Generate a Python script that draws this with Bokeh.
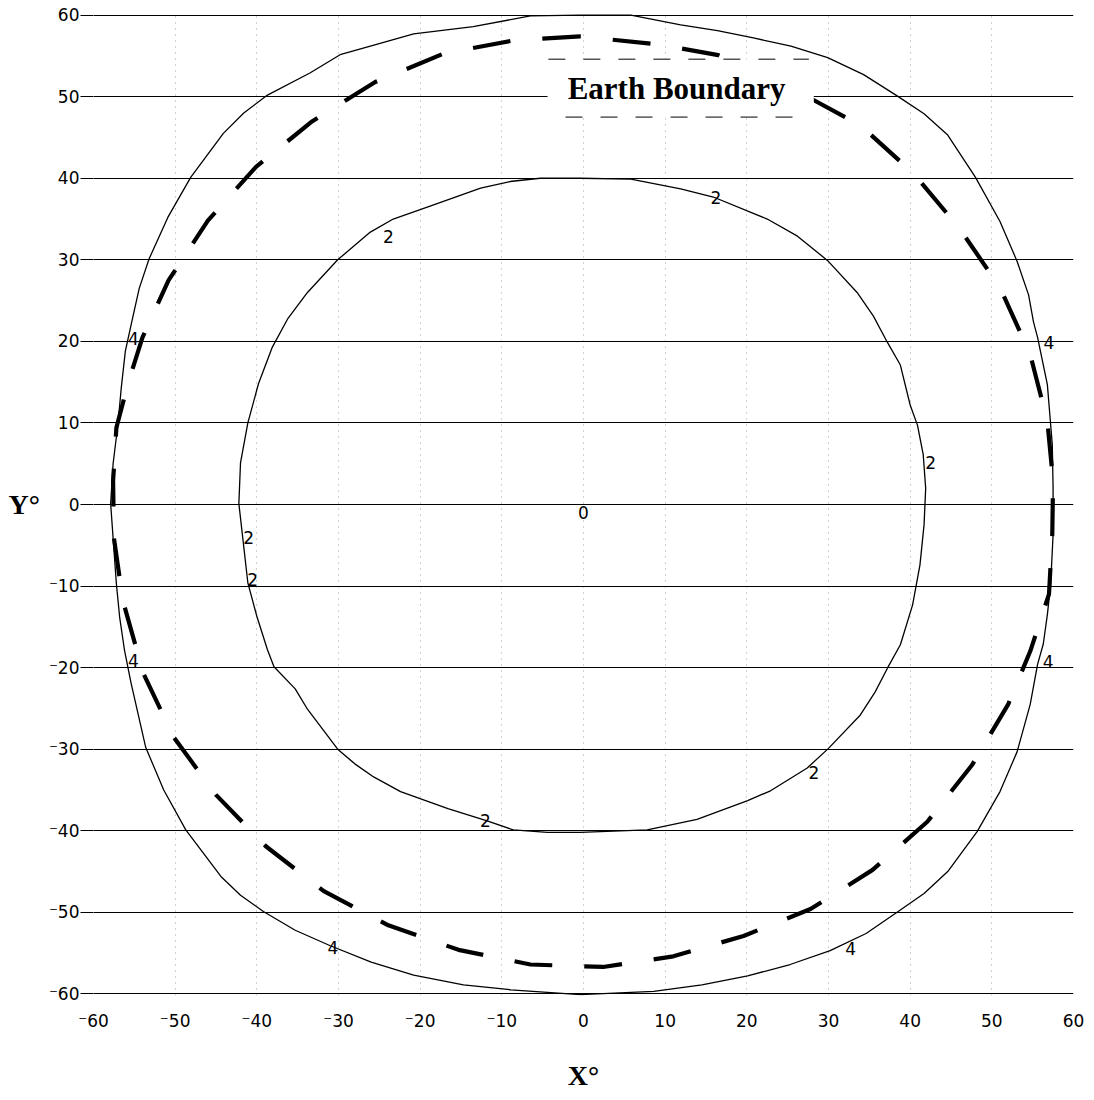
from bokeh.plotting import figure
from bokeh.models import Range1d, FixedTicker, Label, BoxAnnotation, Arrow, ColumnDataSource
from bokeh.core.properties import value
from bokeh.embed import file_html
from bokeh.resources import INLINE

# ---------------- data ----------------
x_ticks = [-60, -50, -40, -30, -20, -10, 0, 10, 20, 30, 40, 50, 60]
y_ticks = [-60, -50, -40, -30, -20, -10, 0, 10, 20, 30, 40, 50, 60]

# contour level 4 (outer)
outer_x = [-0.4, -6.5, -13.5, -20.8, -26.1, -29.7, -33.5, -38.7, -41.6, -44.1, -48.1, -50.9, -53.2,
           -54.4, -55.2, -56.1, -56.6, -57.0, -57.6, -57.9, -57.6, -57.2, -56.8, -56.2, -55.4, -53.6,
           -51.4, -48.7, -44.4, -42.0, -39.2, -35.3, -31.0, -26.0, -20.8, -14.7, -8.9, -0.4, 8.6, 14.5,
           20.1, 25.3, 30.2, 34.6, 38.4, 41.7, 44.6, 48.2, 51.0, 53.1, 54.7, 55.6, 56.3, 56.8, 57.2,
           57.5, 57.5, 57.4, 57.2, 56.8, 55.6, 55.1, 54.5, 53.1, 51.0, 48.0, 44.6, 41.7, 38.4, 34.3,
           29.9, 25.4, 20.8, 16.4, 11.9, 5.8, -0.4]
outer_y = [60.0, 59.9, 58.6, 57.7, 56.2, 55.2, 52.9, 50.2, 48.0, 45.5, 40.1, 35.2, 30.1,
           26.5, 22.9, 18.8, 14.3, 9.9, 5.0, 0.1, -4.1, -9.7, -13.8, -17.9, -21.9, -29.8,
           -35.0, -39.9, -45.6, -47.9, -49.9, -52.2, -54.1, -56.1, -57.7, -58.9, -59.5, -60.1, -59.7, -58.9,
           -57.8, -56.4, -54.7, -52.6, -50.0, -47.7, -45.0, -40.1, -35.2, -30.3, -24.5, -19.6, -17.1, -13.5, -9.8,
           -3.7, 2.1, 7.4, 9.8, 14.7, 20.5, 22.4, 25.7, 29.8, 34.7, 40.1, 45.3, 47.9, 50.1, 52.7,
           54.8, 56.2, 57.2, 58.1, 58.8, 60.0, 60.0]

# contour level 2 (inner)
inner_x = [-0.4, -5.3, -9.0, -12.6, -18.7, -23.3, -26.1, -30.1, -33.8, -36.2, -38.1, -39.8, -41.1, -42.0,
           -42.2, -41.7, -41.1, -40.0, -38.7, -37.9, -35.3, -33.8, -30.1, -28.0, -25.7, -22.4, -16.6,
           -11.8, -8.6, -4.4, -0.4, 7.8, 13.9, 20.1, 22.9, 27.4, 30.0, 33.9, 35.7, 37.2, 38.8, 40.3,
           41.2, 41.7, 41.9, 41.6, 40.9, 40.0, 38.8, 37.2, 35.5, 33.5, 29.9, 26.2, 22.5, 15.9, 11.9,
           5.8, -0.4]
inner_y = [40.0, 40.0, 39.6, 38.8, 36.6, 35.0, 33.4, 30.0, 26.0, 22.8, 19.3, 14.8, 10.0, 5.1,
           0.1, -4.3, -9.6, -13.7, -17.8, -19.9, -22.6, -25.1, -30.0, -31.8, -33.4, -35.2, -37.3,
           -38.8, -39.9, -40.2, -40.2, -39.9, -38.6, -36.3, -35.1, -32.3, -29.9, -25.8, -23.0, -20.1, -17.2, -12.3,
           -7.4, -2.5, 2.0, 6.1, 9.7, 12.2, 17.1, 19.9, 23.1, 26.0, 29.9, 32.9, 35.0, 37.7, 38.7,
           39.9, 40.0]

# earth boundary (dashed)
earth_x = [-0.4, -8.6, -17.1, -25.5, -33.2, -40.1, -46.0, -50.8, -54.0, -55.7, -57.2, -57.6, -57.5,
           -56.4, -53.9, -50.2, -45.0, -38.9, -31.8, -23.9, -15.3, -6.5, 2.4, 11.0, 19.6, 27.8, 35.4,
           42.1, 47.6, 52.0, 54.7, 57.0, 57.4, 57.5, 56.8, 54.7, 51.0, 46.0, 40.4, 33.9, 25.0, 16.5,
           9.2, -0.4]
earth_y = [57.4, 56.9, 55.3, 51.8, 47.0, 41.4, 34.8, 27.5, 20.5, 15.1, 9.4, 2.9, -4.1,
           -11.8, -20.7, -28.5, -35.6, -41.9, -47.4, -51.6, -54.6, -56.4, -56.7, -55.4, -52.9, -49.6, -44.8,
           -38.9, -31.9, -24.5, -18.0, -11.0, -3.7, 2.9, 10.2, 18.4, 26.6, 33.9, 40.6, 46.5, 51.3, 55.1,
           56.4, 57.4]

# contour labels
clabel_x = [0.0, -23.9, 16.2, 42.5, -41.0, -40.5, 28.2, -12.0,
            -55.1, 57.0, -55.1, 56.9, -30.7, 32.7]
clabel_y = [-1.0, 32.9, 37.7, 5.2, -4.1, -9.2, -32.9, -38.8,
            20.3, 19.9, -19.1, -19.2, -54.3, -54.4]
clabel_text = ["0", "2", "2", "2", "2", "2", "2", "2",
               "4", "4", "4", "4", "4", "4"]

annotation_text = "Earth Boundary"
x_title = "X°"
y_title = "Y°"


def tick_text(t):
    return ("\u207b" + str(-t)) if t < 0 else str(t)


# ---------------- figure ----------------
p = figure(width=1094, height=1100,
           x_range=Range1d(-60, 60), y_range=Range1d(-60.2, 60.2),
           output_backend="svg", toolbar_location=None,
           min_border_left=93, min_border_right=21, min_border_top=13, min_border_bottom=105)
p.outline_line_color = None
p.background_fill_color = "white"
p.border_fill_color = "white"

# axes
p.xaxis.ticker = FixedTicker(ticks=x_ticks)
p.yaxis.ticker = FixedTicker(ticks=y_ticks)
p.xaxis.major_label_overrides = {t: tick_text(t) for t in x_ticks}
p.yaxis.major_label_overrides = {t: tick_text(t) for t in y_ticks}
for ax in (p.xaxis, p.yaxis):
    ax.axis_line_color = None
    ax.minor_tick_line_color = None
    ax.major_label_text_font = "DejaVu Sans"
    ax.major_label_text_font_size = "17px"
    ax.major_label_text_color = "black"
    ax.axis_label_text_font = "Liberation Serif"
    ax.axis_label_text_font_style = "bold"
    ax.axis_label_text_font_size = "28px"
    ax.axis_label_text_color = "black"

p.xaxis.major_tick_line_color = None
p.xaxis.major_label_standoff = 9
p.xaxis.axis_label = x_title
p.xaxis.axis_label_standoff = 26

p.yaxis.major_tick_in = 0
p.yaxis.major_tick_out = 13
p.yaxis.major_tick_line_color = "black"
p.yaxis.major_tick_line_width = 1.2
p.yaxis.major_label_standoff = 1
p.yaxis.axis_label = y_title
p.yaxis.axis_label_orientation = "horizontal"
p.yaxis.axis_label_standoff = 6

# grids
p.ygrid.grid_line_color = "black"
p.ygrid.grid_line_width = 1.2
p.xgrid.grid_line_color = "#8a8a8a"
p.xgrid.grid_line_dash = "1 5"
p.xgrid.grid_line_width = 1
p.xgrid.grid_line_alpha = 0.8

# curves
p.line(outer_x, outer_y, line_color="black", line_width=1.3, line_join="round")
p.line(inner_x, inner_y, line_color="black", line_width=1.3, line_join="round")
p.line(earth_x, earth_y, line_color="black", line_width=4.2, line_dash="38 32", line_cap="butt")

# contour labels
src = ColumnDataSource(dict(x=clabel_x, y=clabel_y, t=clabel_text))
p.text(x="x", y="y", text="t", source=src, text_font=value("DejaVu Sans"),
       text_font_size="17px", text_color="black", text_align="center", text_baseline="middle")

# "Earth Boundary" text box
box = BoxAnnotation(left=-4.4, right=28.2, top=54.6, bottom=47.5,
                    fill_color="white", fill_alpha=1.0, line_color=None, level="annotation")
p.add_layout(box)
p.add_layout(Arrow(end=None, x_start=-4.3, y_start=54.6, x_end=27.6, y_end=54.6,
                   line_color="black", line_width=1, line_dash="17 18"))
p.add_layout(Arrow(end=None, x_start=-2.2, y_start=47.5, x_end=27.0, y_end=47.5,
                   line_color="black", line_width=1, line_dash="17 18"))
p.add_layout(Label(x=11.4, y=51.0, text=annotation_text, text_font="Liberation Serif",
                   text_font_style="bold", text_font_size="31px", text_color="black",
                   text_align="center", text_baseline="middle"))

open("out.html", "w").write(file_html(p, INLINE))
